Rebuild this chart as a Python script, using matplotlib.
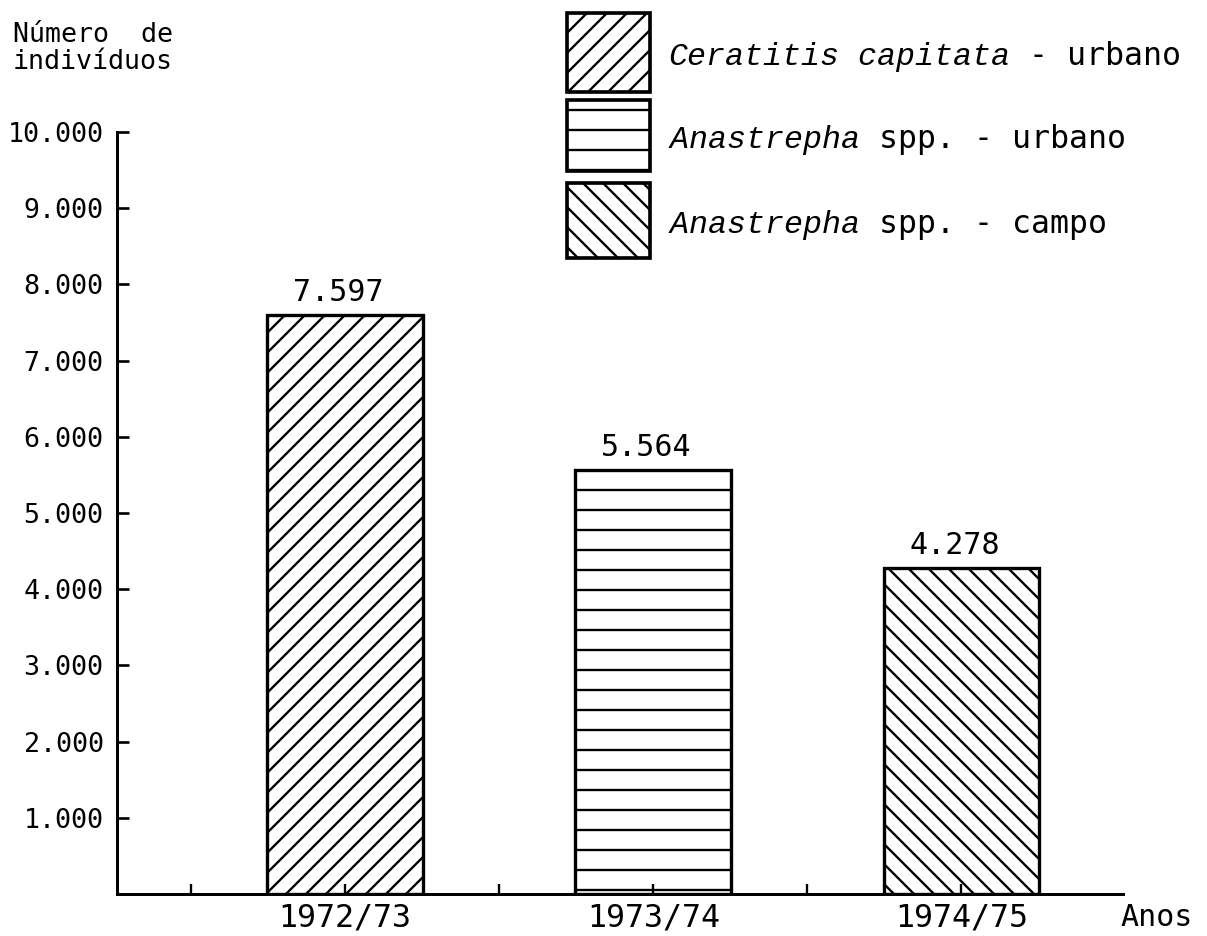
import matplotlib
matplotlib.use("Agg")
import matplotlib.pyplot as plt
from matplotlib.patches import Rectangle

# data
anos = ["1972/73", "1973/74", "1974/75"]
individuos = [7597, 5564, 4278]
rotulos = ["7.597", "5.564", "4.278"]
yticks = [1000, 2000, 3000, 4000, 5000, 6000, 7000, 8000, 9000, 10000]
ytick_labels = ["1.000", "2.000", "3.000", "4.000", "5.000",
                "6.000", "7.000", "8.000", "9.000", "10.000"]
hatches = ["//", "-", "\\\\"]
legenda = [r"$\mathit{Ceratitis}$ $\mathit{capitata}$ - urbano",
           r"$\mathit{Anastrepha}$ spp. - urbano",
           r"$\mathit{Anastrepha}$ spp. - campo"]

plt.rcParams["font.family"] = ["DejaVu Sans Mono", "DejaVu Sans"]
plt.rcParams["mathtext.fontset"] = "custom"
plt.rcParams["mathtext.it"] = "Liberation Mono:italic"
plt.rcParams["mathtext.rm"] = "DejaVu Sans Mono"
plt.rcParams["hatch.linewidth"] = 1.4
plt.rcParams["hatch.color"] = "black"

W, H = 1207, 936
fig = plt.figure(figsize=(W / 120, H / 120), dpi=120)
ax = fig.add_axes([117 / W, 1 - 894 / H, (1123 - 117) / W, (894 - 132) / H])

x = [1, 2, 3]
bars = ax.bar(x, individuos, width=0.506, color="white", edgecolor="black",
              linewidth=2.0)
for b, h in zip(bars, hatches):
    b.set_hatch(h)

for xi, v, lab in zip(x, individuos, rotulos):
    ax.annotate(lab, (xi, v), xytext=(-4, 5), textcoords="offset points",
                ha="center", va="bottom", fontsize=18)

ax.set_xlim(0.26, 3.524)
ax.set_ylim(0, 10000)
ax.set_yticks(yticks)
ax.set_yticklabels(ytick_labels, fontsize=16)
ax.set_xticks(x)
ax.set_xticklabels(anos, fontsize=19)
ax.set_xticks([0.5, 1.5, 2.5], minor=True)
ax.tick_params(axis="y", direction="in", length=7, width=1.6, pad=8)
ax.tick_params(axis="x", which="both", direction="in", length=6, width=1.4, pad=5)

for s in ["top", "right"]:
    ax.spines[s].set_visible(False)
for s in ["left", "bottom"]:
    ax.spines[s].set_linewidth(1.8)

fig.text(13 / W, 1 - 22 / H, "Número  de\nindivíduos", ha="left", va="top",
         fontsize=16, linespacing=1.05)
fig.text(1120 / W, 1 - 917 / H, "Anos", ha="left", va="center", fontsize=18)

# legend drawn by hand: hatched boxes with labels to the right
box_tops = [13, 100, 183]
box_bottoms = [92, 171, 258]
for h, lab, t, bt in zip(hatches, legenda, box_tops, box_bottoms):
    fig.add_artist(Rectangle((567 / W, 1 - bt / H), (650 - 567) / W, (bt - t) / H,
                             transform=fig.transFigure, facecolor="white",
                             edgecolor="black", hatch=h, linewidth=2.2))
    fig.text(668 / W, 1 - ((t + bt) / 2 + 4) / H, lab, ha="left", va="center",
             fontsize=19)

fig.savefig("out.png", dpi=120, facecolor="white")
